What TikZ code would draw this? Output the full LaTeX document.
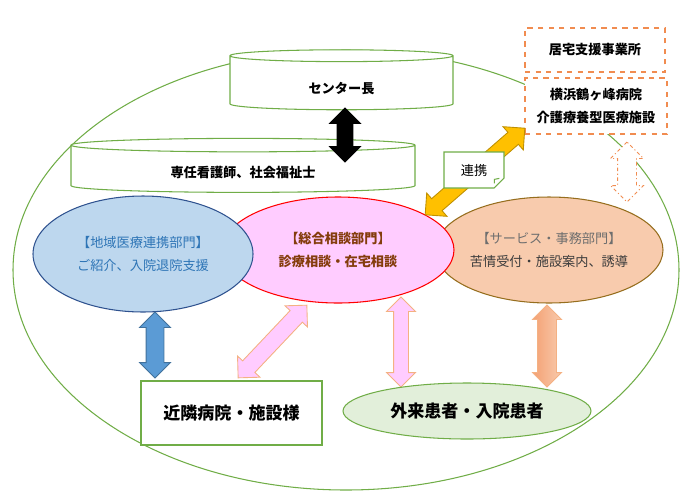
\documentclass[tikz,border=0pt]{standalone}
\usepackage{fontspec}
\setmainfont{Noto Sans CJK JP}
\usepackage{tikz}
\usetikzlibrary{positioning, shapes.geometric, shapes.arrows, shapes.misc}

\newdimen\pu
\pu=0.02cm

\begin{document}
\begin{tikzpicture}[x=0.02cm, y=-0.02cm,
    every node/.style={font=\fontsize{7.5}{13}\selectfont, inner sep=0pt},
    drum/.style={cylinder, shape border rotate=90, draw=ringgreen, fill=white, line width=0.6pt},
    dept/.style={ellipse, draw, line width=0.6pt, align=center},
    boxarrow/.style={double arrow, double arrow head extend=#1, inner xsep=0pt, line width=0.5pt}]
    \useasboundingbox (0,0) rectangle (700,498);

    % Define colors
    \definecolor{ringgreen}{RGB}{112,173,71}
    \definecolor{dashorange}{RGB}{241,140,80}
    \definecolor{goldarrow}{RGB}{255,192,0}
    \definecolor{goldedge}{RGB}{191,144,0}
    \definecolor{regionblue}{RGB}{189,215,238}
    \definecolor{regionedge}{RGB}{47,82,143}
    \definecolor{regiontext}{RGB}{46,117,182}
    \definecolor{consultpink}{RGB}{255,204,255}
    \definecolor{consulttext}{RGB}{132,60,12}
    \definecolor{servicefill}{RGB}{248,203,173}
    \definecolor{serviceedge}{RGB}{150,110,30}
    \definecolor{pinkedge}{RGB}{244,177,131}
    \definecolor{bluearrow}{RGB}{91,155,213}
    \definecolor{blueedge}{RGB}{65,113,156}
    \definecolor{salmondark}{RGB}{244,160,115}
    \definecolor{patientgreen}{RGB}{226,239,218}

    % Outer ring
    \draw[ringgreen, line width=0.6pt] (346,270) ellipse [x radius=333, y radius=220];

    % Staff and chief
    \node[drum, aspect=0.093, minimum width=344\pu, minimum height=54\pu] (staff) at (243,169) {\raisebox{-8\pu}[0pt][0pt]{\bfseries 専任看護師、社会福祉士}};
    \node[drum, aspect=0.18, minimum width=223\pu, minimum height=60\pu] (chief) at (341.5,83) {\raisebox{-10\pu}[0pt][0pt]{\bfseries センター長}};
    \node[boxarrow=7.5\pu, inner ysep=7.5\pu, fill=black, draw=black, rotate=90, minimum height=54\pu] (chiefarrow) at (345,135) {};

    % Outside partners
    \node[draw=dashorange, dashed, line width=0.6pt, fill=white, minimum width=140\pu, minimum height=44\pu] (homecare) at (595,50) {\bfseries 居宅支援事業所};
    \node[draw=dashorange, dashed, line width=0.6pt, fill=white, minimum width=142\pu, minimum height=56\pu, align=center] (hospital) at (596,106) {\bfseries 横浜鶴ヶ峰病院\\\bfseries 介護療養型医療施設};
    \node[boxarrow=7\pu, inner ysep=9\pu, draw=dashorange, dash pattern=on 2pt off 1.5pt on 0.6pt off 1.5pt, fill=white, rotate=90, minimum height=60\pu] (hosparrow) at (627,172) {};

    % Departments
    \node[dept, draw=serviceedge, fill=servicefill, minimum width=228\pu, minimum height=106\pu] (service) at (549,250)
        {{\color[RGB]{110,110,110}【サービス・事務部門】}\\{\color[RGB]{60,60,60}苦情受付・施設案内、誘導}};
    \node[dept, draw=red, fill=consultpink, text=consulttext, minimum width=232\pu, minimum height=106\pu] (consult) at (338,250)
        {\bfseries【総合相談部門】\\\bfseries 診療相談・在宅相談};
    \node[dept, draw=regionedge, fill=regionblue, text=regiontext, minimum width=220\pu, minimum height=116\pu] (region) at (143,254)
        {【地域医療連携部門】\\ご紹介、入院退院支援};

    % Link to the hospital
    \node[boxarrow=7.5\pu, inner ysep=7.5\pu, fill=goldarrow, draw=goldedge, rotate=41, minimum height=132\pu] (linkarrow) at (475,171.5) {};
    \node[chamfered rectangle, chamfered rectangle corners=south east, chamfered rectangle xsep=5\pu, chamfered rectangle ysep=5\pu,
        draw=ringgreen, fill=white, line width=0.6pt, minimum width=60\pu, minimum height=36\pu] (link) at (474,170) {連携};
    \draw[ringgreen, line width=0.6pt] ([yshift=5\pu]link.south east) -- ([xshift=-5\pu, yshift=4\pu]link.south east) -- ([xshift=-5\pu]link.south east);

    % Lower arrows
    \node[boxarrow=6.5\pu, inner ysep=8.5\pu, fill=bluearrow, draw=blueedge, rotate=90, minimum height=66\pu] (regionarrow) at (155,345) {};
    \node[boxarrow=7\pu, inner ysep=8\pu, fill=consultpink, draw=pinkedge, rotate=46.6, minimum height=100\pu] (nbarrow) at (272.5,341.5) {};
    \node[boxarrow=7\pu, inner ysep=7\pu, fill=consultpink, draw=pinkedge, rotate=90, minimum height=90\pu] (patarrow) at (401,342) {};
    \node[boxarrow=5\pu, inner ysep=9\pu, left color=salmondark, right color=servicefill, draw=pinkedge, rotate=90, minimum height=82\pu] (servarrow) at (547,346) {};

    % Neighbours and patients
    \node[draw=ringgreen, fill=white, line width=0.6pt, minimum width=181\pu, minimum height=64\pu, font=\fontsize{9.7}{12}\selectfont\bfseries] (neighbour) at (231.5,413) {近隣病院・施設様};
    \node[ellipse, draw=ringgreen, fill=patientgreen, line width=0.6pt, minimum width=248\pu, minimum height=56\pu, font=\fontsize{9.7}{12}\selectfont\bfseries] (patients) at (467,411) {外来患者・入院患者};
\end{tikzpicture}
\end{document}
